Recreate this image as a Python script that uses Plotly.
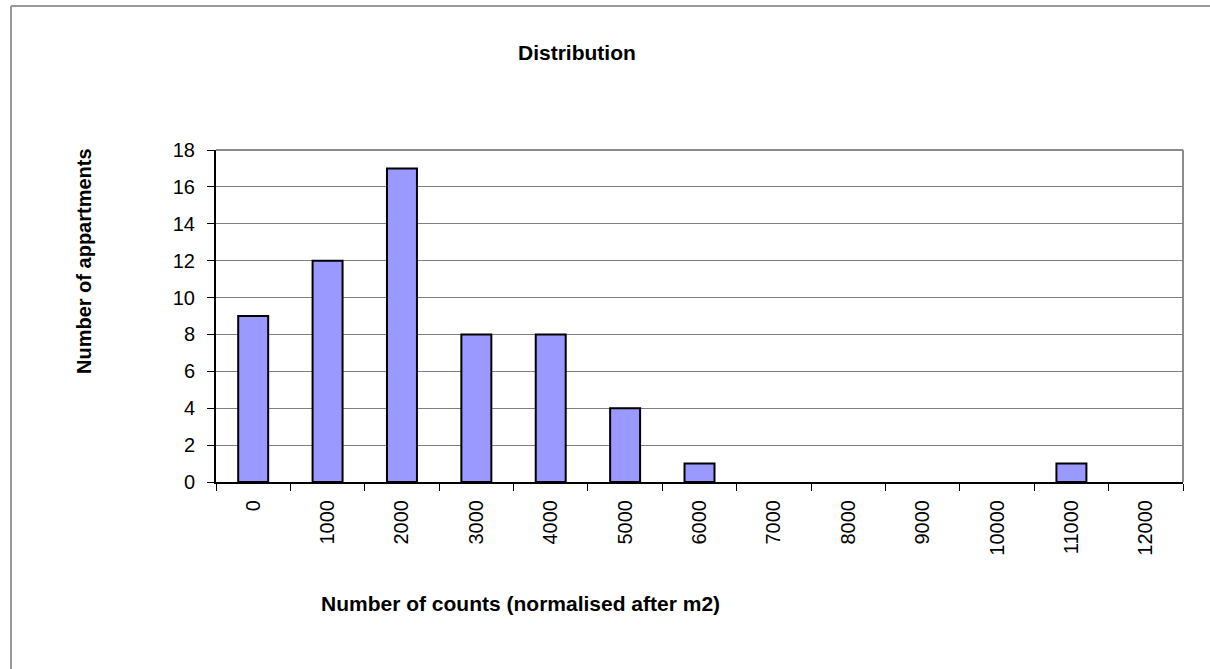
import plotly.graph_objects as go

categories = ["0", "1000", "2000", "3000", "4000", "5000", "6000",
              "7000", "8000", "9000", "10000", "11000", "12000"]
counts = [9, 12, 17, 8, 8, 4, 1, 0, 0, 0, 0, 1, 0]

title_text = "Distribution"
x_title = "Number of counts (normalised after m2)"
y_title = "Number of appartments"

W, H = 1210, 669
L, R, T, B = 216, 1183, 150, 482
pw, ph = R - L, B - T

def px(x):
    return (x - L) / pw

def py(y):
    return (B - y) / ph

fig = go.Figure()
fig.add_trace(go.Bar(
    x=categories, y=counts,
    marker=dict(color="#9999FF",
                line=dict(color="black", width=[2 if c > 0 else 0 for c in counts])),
    width=0.403,
    hoverinfo="x+y",
))

font = "Liberation Sans, Arial, sans-serif"

fig.update_layout(
    width=W, height=H,
    margin=dict(l=L, r=W - R, t=T, b=H - B, pad=0),
    paper_bgcolor="white", plot_bgcolor="white",
    showlegend=False,
    font=dict(family=font, size=20, color="black"),
    xaxis=dict(
        type="category", tickson="boundaries", ticks="outside", ticklen=7,
        tickcolor="black", tickwidth=1, tickangle=-90,
        showline=True, linecolor="black", linewidth=2,
        showgrid=False, zeroline=False, ticklabelstandoff=8,
        tickfont=dict(size=20), range=[-0.5, 12.5],
    ),
    yaxis=dict(
        range=[0, 18], dtick=2, ticks="outside", ticklen=7,
        tickcolor="black", tickwidth=1,
        showline=True, linecolor="black", linewidth=2,
        showgrid=True, gridcolor="#808080", gridwidth=1,
        zeroline=False, tickfont=dict(size=20), ticklabelstandoff=8,
    ),
    shapes=[
        dict(type="line", xref="paper", yref="paper", x0=0, x1=1, y0=1, y1=1,
             line=dict(color="#8c8c8c", width=2), layer="below"),
        dict(type="line", xref="paper", yref="paper", x0=1, x1=1, y0=0, y1=1,
             line=dict(color="#8c8c8c", width=2), layer="below"),
        dict(type="line", xref="paper", yref="paper", x0=px(11), x1=px(1260),
             y0=py(6), y1=py(6), line=dict(color="#999999", width=2)),
        dict(type="line", xref="paper", yref="paper", x0=px(11), x1=px(11),
             y0=py(6), y1=py(720), line=dict(color="#999999", width=2)),
    ],
    annotations=[
        dict(text="<b>" + title_text + "</b>", xref="paper", yref="paper",
             x=px(576.5), y=py(52), xanchor="center", yanchor="middle",
             showarrow=False, font=dict(size=21, family=font)),
        dict(text="<b>" + x_title + "</b>", xref="paper", yref="paper",
             x=px(520), y=py(603), xanchor="center", yanchor="middle",
             showarrow=False, font=dict(size=21, family=font)),
        dict(text="<b>" + y_title + "</b>", xref="paper", yref="paper",
             x=px(84), y=py(261), xanchor="center", yanchor="middle",
             textangle=-90, showarrow=False, font=dict(size=20, family=font)),
    ],
)

fig.write_html(
    "out.html",
    config={"displayModeBar": False},
    post_script="document.body.style.margin='0';document.body.style.overflow='hidden';",
)
